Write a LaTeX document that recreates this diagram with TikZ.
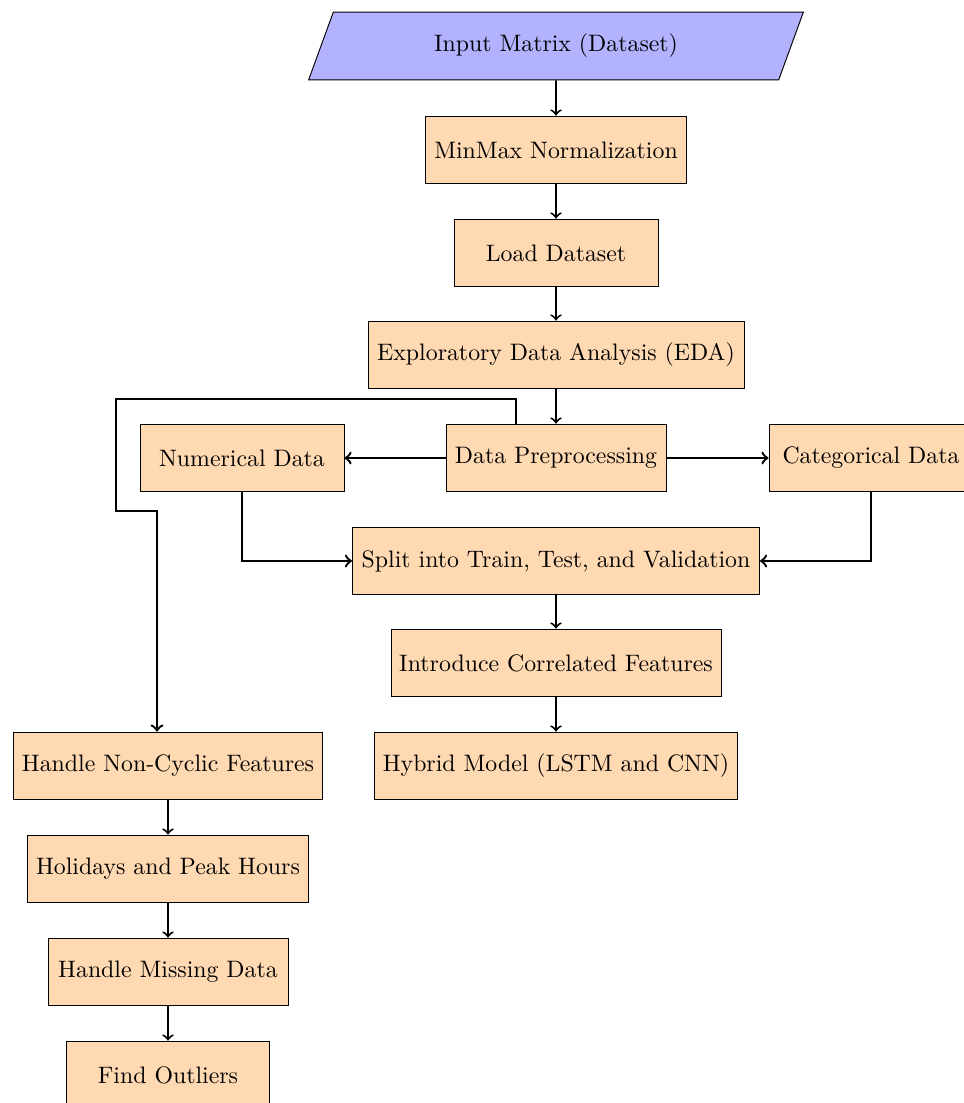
\documentclass[tikz,border=0pt]{standalone}
\usetikzlibrary{shapes.geometric}
\begin{document}
\begin{tikzpicture}[x=0.42pt,y=-0.42pt,
  box/.style={draw, thin, fill=orange!30, minimum height=28.5pt, inner xsep=2pt, align=center},
  io/.style={draw, thin, fill=blue!30, shape=trapezium, trapezium left angle=70, trapezium right angle=110, trapezium stretches=true, minimum height=28.5pt, minimum width=208pt},
  arr/.style={->, thick},
  link/.style={->, line width=1pt}]
\useasboundingbox (0,0) rectangle (963,1103);
\node[io] (input) at (556,46) {Input Matrix (Dataset)};
\node[box, minimum width=261*0.42pt] (minmax) at (556,150) {MinMax Normalization};
\node[box, minimum width=204*0.42pt] (load) at (556,253) {Load Dataset};
\node[box, minimum width=376*0.42pt] (eda) at (556,355) {Exploratory Data Analysis (EDA)};
\node[box, minimum width=220*0.42pt] (prep) at (556,458) {Data Preprocessing};
\node[box, minimum width=204*0.42pt] (num) at (242,458) {Numerical Data};
\node[box, minimum width=204*0.42pt] (cat) at (871,458) {Categorical Data};
\node[box, minimum width=407*0.42pt] (split) at (556,561) {Split into Train, Test, and Validation};
\node[box, minimum width=330*0.42pt] (intro) at (556,663) {Introduce Correlated Features};
\node[box, minimum width=363*0.42pt] (hybrid) at (556,766) {Hybrid Model (LSTM and CNN)};
\node[box, minimum width=309*0.42pt] (noncyc) at (168,766) {Handle Non-Cyclic Features};
\node[box, minimum width=281*0.42pt] (holi) at (168,869) {Holidays and Peak Hours};
\node[box, minimum width=240*0.42pt] (miss) at (168,972) {Handle Missing Data};
\node[box, minimum width=203*0.42pt] (outl) at (168,1075) {Find Outliers};

\draw[arr] (input) -- (minmax);
\draw[arr] (minmax) -- (load);
\draw[arr] (load) -- (eda);
\draw[arr] (eda) -- (prep);
\draw[link] (prep) -- (num);
\draw[link] (prep) -- (cat);
\draw[link] (num.south) |- (split.west);
\draw[link] (cat.south) |- (split.east);
\draw[arr] (split) -- (intro);
\draw[arr] (intro) -- (hybrid);
\draw[link] (prep.north -| 516,0) -- (516,399) -- (116,399) -- (116,511) -- (157,511) -- (noncyc.north -| 157,0);
\draw[arr] (noncyc) -- (holi);
\draw[arr] (holi) -- (miss);
\draw[arr] (miss) -- (outl);
\end{tikzpicture}
\end{document}
